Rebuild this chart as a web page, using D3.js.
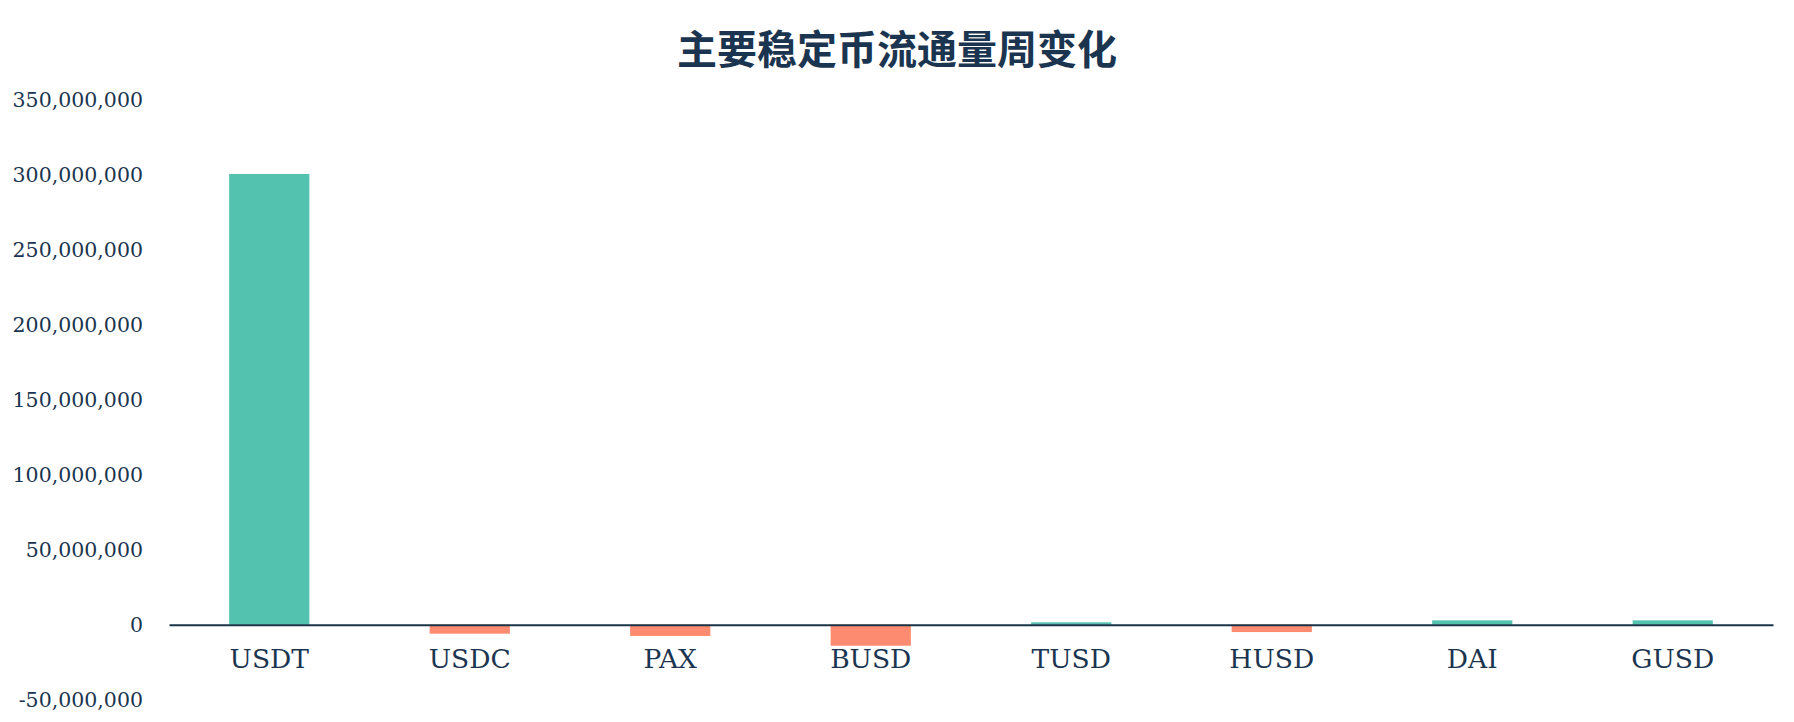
<!doctype html>
<html>
<head>
<meta charset="utf-8" />
<title>主要稳定币流通量周变化</title>
<script src="https://d3js.org/d3.v7.min.js"></script>
<style>
  body { margin: 0; background: #fff; }
  svg text { fill: #1b3550; }
</style>
</head>
<body>
<script>
// stablecoin weekly supply change
var coins = ["USDT", "USDC", "PAX", "BUSD", "TUSD", "HUSD", "DAI", "GUSD"];
var changes = [300500000, -6000000, -7500000, -14000000, 1600000, -4900000, 2900000, 2900000];
var yTicks = [-50000000, 0, 50000000, 100000000, 150000000, 200000000, 250000000, 300000000, 350000000];

var width = 1794, height = 722;
var svg = d3.select("body").append("svg").attr("width", width).attr("height", height);

var xScale = d3.scaleBand().domain(coins).range([169, 1773]).paddingInner(0.6).paddingOuter(0.3);
var yScale = d3.scaleLinear().domain([-50000000, 350000000]).range([699.7, 99.7]);

// plain hyphen for negatives, like the original
var fmt = d3.formatLocale({decimal: ".", thousands: ",", grouping: [3], currency: ["", ""], minus: "-"}).format(",");

svg.append("text")
  .attr("x", width / 2)
  .attr("y", 47)
  .attr("text-anchor", "middle")
  .attr("dominant-baseline", "central")
  .style("font-family", "'Noto Sans CJK SC', sans-serif")
  .style("font-weight", 700)
  .style("font-size", "40px")
  .text("主要稳定币流通量周变化");

// y axis: labels only
var yAxis = d3.axisLeft(yScale).tickValues(yTicks).tickFormat(fmt).tickSize(0).tickPadding(0);
var gy = svg.append("g").attr("transform", "translate(143,0)").call(yAxis);
gy.select(".domain").remove();
gy.selectAll("text")
  .style("font-family", "'DejaVu Serif', serif")
  .style("font-size", "20.5px")
  .style("fill", "#1b3550");

// bars
svg.selectAll("rect.bar")
  .data(changes)
  .enter()
  .append("rect")
  .attr("class", "bar")
  .attr("x", function(d, i) { return xScale(coins[i]); })
  .attr("width", xScale.bandwidth())
  .attr("y", function(d) { return yScale(Math.max(0, d)); })
  .attr("height", function(d) { return Math.abs(yScale(d) - yScale(0)); })
  .style("fill", function(d) { return d >= 0 ? "#53c3b0" : "#fd8b6f"; });

// x axis on the zero line
var xAxis = d3.axisBottom(xScale).tickSize(0).tickPadding(24);
var gx = svg.append("g").attr("transform", "translate(0," + yScale(0) + ")").call(xAxis);
gx.select(".domain").attr("stroke", "#1b3447").attr("stroke-width", 2);
gx.selectAll("text")
  .style("font-family", "'DejaVu Serif', serif")
  .style("font-size", "26.5px")
  .style("fill", "#1b3550");
</script>
</body>
</html>
